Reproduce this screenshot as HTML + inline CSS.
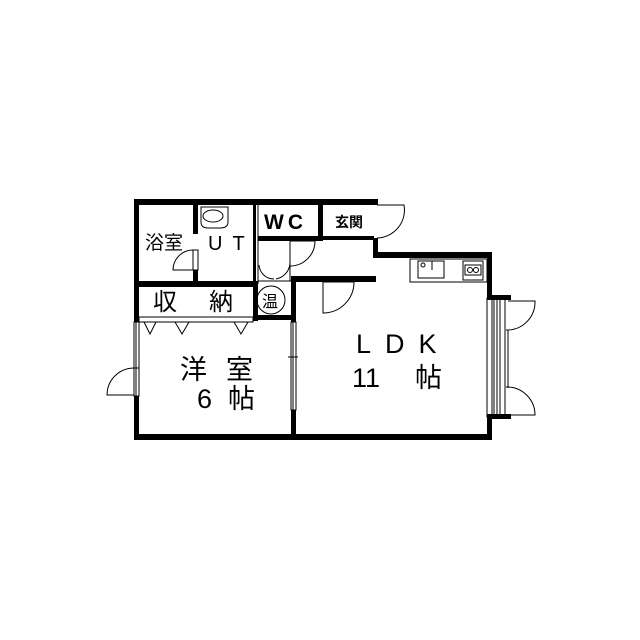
<!DOCTYPE html>
<html><head><meta charset="utf-8"><style>
html,body{margin:0;padding:0;background:#fff;width:640px;height:640px;overflow:hidden}
text{font-family:"Liberation Sans","Noto Sans CJK JP",sans-serif;fill:#000}
</style></head><body>
<svg width="640" height="640" viewBox="0 0 640 640" xmlns="http://www.w3.org/2000/svg">
<g fill="#000">
<rect x="134" y="199" width="243" height="6"/>
<rect x="134" y="199" width="5" height="123"/>
<rect x="134" y="368" width="5" height="72"/>
<rect x="134" y="434" width="358" height="6"/>
<rect x="373" y="199" width="5" height="6"/>
<rect x="373" y="238" width="5" height="20"/>
<rect x="373" y="252" width="119" height="6"/>
<rect x="487" y="252" width="5" height="46"/>
<rect x="487" y="417" width="5" height="23"/>
<rect x="193" y="204" width="5" height="30"/>
<rect x="193" y="270" width="5" height="14"/>
<rect x="134" y="281" width="124" height="6"/>
<rect x="253" y="204" width="3" height="80"/>
<rect x="258" y="236" width="62" height="5"/>
<rect x="318" y="204" width="5" height="37"/>
<rect x="323" y="236" width="51" height="4"/>
<rect x="253" y="281" width="5" height="40"/>
<rect x="253" y="315" width="42" height="5"/>
<rect x="291" y="276" width="85" height="6"/>
<rect x="291" y="276" width="5" height="46"/>
<rect x="291" y="410" width="5" height="28"/>
</g>
<g fill="none" stroke="#000" stroke-width="1">
<line x1="258" y1="204" x2="258" y2="284"/>
<rect x="139" y="317" width="114" height="5"/>
<path d="M144 322 L150 334 L156 322 M175 322 L182 334 L189 322 M234 322 L241 334 L248 322"/>
<rect x="193" y="250" width="5" height="20"/>
<path d="M193 250 A20 20 0 0 0 173 270 L193 270"/>
<path d="M201 207 H228 V222 Q228 228 220 228 H208 Q201 228 201 222 Z"/>
<ellipse cx="213" cy="216" rx="10" ry="6"/>
<!-- hall doors -->
<line x1="258" y1="281" x2="291" y2="281"/>
<line x1="290" y1="241" x2="290" y2="281"/>
<path d="M290 241 H315 A25 25 0 0 1 290 266"/>
<path d="M259 265 A15 15 0 0 0 274 279"/>
<path d="M290 262 A17 17 0 0 1 276 279"/>
<path d="M377 205 H404 A28 28 0 0 1 377 238"/>
<path d="M323 282 V313 A31 31 0 0 0 354 282 Z"/>
<circle cx="271" cy="300" r="14"/>
<rect x="134" y="322" width="5" height="46"/>
<line x1="136" y1="322" x2="136" y2="368"/>
<path d="M134 368 A27 27 0 0 0 107 395 H134"/>
<rect x="134" y="368" width="5" height="28" fill="#fff"/>
<line x1="136" y1="368" x2="136" y2="396"/>
<rect x="291" y="322" width="5" height="88" fill="#fff"/>
<line x1="293" y1="322" x2="293" y2="410"/>
<line x1="288" y1="357" x2="298" y2="357"/>
<rect x="410" y="259" width="77" height="23"/>
<rect x="418" y="261" width="26" height="17"/>
<circle cx="423" cy="265" r="2"/>
<line x1="432" y1="261" x2="432" y2="270"/>
<rect x="463" y="261" width="20" height="19"/>
<rect x="465" y="265" width="16" height="10"/>
<circle cx="470" cy="270" r="2.5"/><circle cx="476" cy="270" r="2.5"/>
<rect x="487" y="298" width="5" height="119" fill="#fff"/>
<line x1="494" y1="298" x2="494" y2="417"/>
<line x1="497" y1="298" x2="497" y2="417"/>
<line x1="500" y1="298" x2="500" y2="417"/>
<line x1="505" y1="298" x2="505" y2="417"/>
<line x1="508" y1="330" x2="508" y2="388"/>
<path d="M508 301 H535 A28 28 0 0 1 506 330"/>
<path d="M506 387 A28 28 0 0 1 535 415 H508"/>
</g>
<rect x="487" y="295" width="24" height="5" fill="#000"/>
<rect x="487" y="414" width="24" height="5" fill="#000"/>
<g>
<text x="145" y="249" font-size="19">浴室</text>
<text x="208" y="250" font-size="20" letter-spacing="10">UT</text>
<text x="264" y="229" font-size="21" font-weight="bold" letter-spacing="4">WC</text>
<text x="335" y="227" font-size="14" font-weight="bold">玄関</text>
<text x="153" y="310" font-size="24">収</text>
<text x="209" y="310" font-size="24">納</text>
<text x="262" y="307" font-size="16">温</text>
<text x="180" y="379" font-size="27">洋</text>
<text x="226" y="379" font-size="27">室</text>
<text x="197" y="408" font-size="27">6</text>
<text x="228" y="408" font-size="27">帖</text>
<text x="356" y="353" font-size="27" letter-spacing="14">LDK</text>
<text x="352" y="387" font-size="27">11</text>
<text x="415" y="387" font-size="27">帖</text>
</g>
</svg>
</body></html>
